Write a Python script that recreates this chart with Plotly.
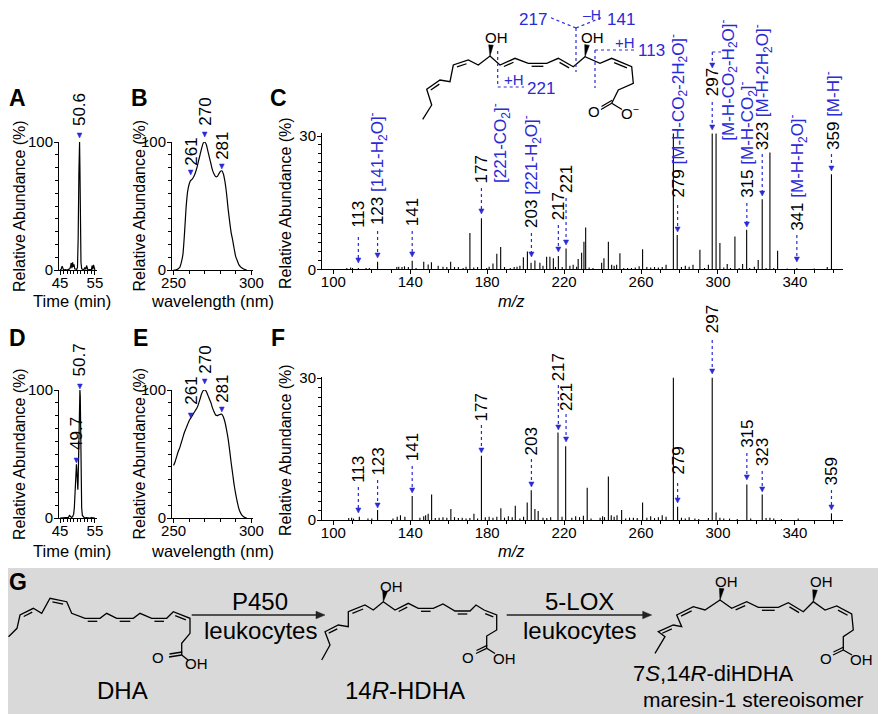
import math
import plotly.graph_objects as go

W, H = 886, 714
# the page puts the plot 8 px in from the top-left corner; drawing coordinates below
# are those of the reference picture, so everything is shifted back by that much
OX, OY = 8, 8
FONT = "Liberation Sans, Arial, sans-serif"
BLUE = "#2a2ad6"

# ---------------- values ----------------
# A: chromatogram, time (min) / relative abundance (%)
time_a = [45.0, 45.3, 45.6, 45.8, 46.0, 46.5, 47.0, 47.4, 47.8, 48.0,
          48.2, 48.4, 48.6, 48.8, 49.0, 49.2, 49.5, 49.8, 50.0, 50.2,
          50.4, 50.5, 50.6, 50.7, 50.8, 51.0, 51.2, 51.5, 51.8, 52.1,
          52.4, 52.6, 52.8, 53.0, 53.5, 54.0, 54.2, 54.4, 54.6, 54.8, 55.0]
abund_a = [0, 0.5, 3, 0.5, 0, 0.3, 0, 0.5, 1, 2.5,
           5.5, 1.5, 6, 2.5, 4.5, 1, 0.5, 0.5, 2, 25,
           75, 95, 100, 80, 40, 6, 1, 0.5, 0, 2,
           0.5, 3.5, 0.5, 0, 0.3, 0.5, 3.5, 0.5, 4, 0.5, 0]

# D: chromatogram
time_d = [45.0, 45.5, 46.0, 46.5, 47.0, 47.4, 47.7, 48.0, 48.3, 48.6,
          48.9, 49.1, 49.3, 49.5, 49.6, 49.7, 49.8, 49.9, 50.0, 50.1,
          50.2, 50.35, 50.5, 50.6, 50.7, 50.8, 50.9, 51.0, 51.1, 51.2,
          51.4, 51.7, 52.0, 52.5, 53.0, 53.5, 54.0, 54.5, 55.0]
abund_d = [0, 0, 0, 0, 0.3, 0.5, 2, 1, 0.5, 1,
           3, 8, 20, 35, 41, 42, 38, 30, 24, 22,
           30, 55, 80, 88, 100, 95, 75, 45, 20, 8,
           2, 0.5, 0, 0.3, 0, 0, 0.3, 0, 0]

# B / E: UV spectra, wavelength (nm) / relative abundance (%)
wl = [250, 251, 252, 253, 254, 255, 256, 257, 258, 259,
      260, 261, 262, 263, 264, 265, 266, 267, 268, 269,
      270, 271, 272, 273, 274, 275, 276, 277, 278, 279,
      280, 281, 282, 283, 284, 285, 286, 287, 288, 289,
      290, 291, 292, 293, 294, 295, 296, 297]
abs_b = [0, 0, 0.3, 1, 2, 6, 12, 28, 48, 61,
         67, 70, 71, 73, 76, 80, 85, 90, 95, 99,
         100, 98, 93, 88, 83, 78, 75, 73, 73, 75,
         77, 77.5, 75, 69, 60, 48, 38, 29, 23, 16,
         10, 7, 4, 2.5, 1.5, 0.8, 0.3, 0]
abs_e = [41, 44, 48, 52, 55, 59, 63, 67, 70, 73,
         76, 78, 80, 82, 84, 86, 89, 93, 97, 99.5,
         100, 99, 96, 93, 90, 86, 83, 80.5, 80, 80.5,
         81, 81, 79, 75, 69, 62, 53, 43, 34, 25,
         18, 12, 7, 4, 2, 1, 0.3, 0]

# C: MS/MS spectrum, m/z / relative abundance (%)
mz_c = [107, 109, 110, 113, 117, 118.7, 123, 133, 134, 135.7,
        137, 139, 141, 143, 147, 149.3, 151, 154.5, 157, 159,
        161, 163, 165, 167.5, 169, 171, 173, 175, 177, 179.7,
        181, 183, 185, 187, 189, 192, 194, 195.5, 197, 198.8,
        200.9, 202.8, 204.8, 207.4, 209, 210.9, 212.6, 214.4, 215.5, 217,
        219, 221, 223, 224.7, 226.5, 227.3, 229.1, 230.3, 231.2, 233,
        235, 239.5, 240.7, 243, 244.7, 246, 247.3, 249, 251, 253,
        255, 257, 259, 260.8, 263, 265, 267, 269, 271, 273,
        276.8, 278.8, 281, 283, 285, 287, 290.6, 293, 295, 297,
        299, 301, 303, 304.8, 306.5, 308.8, 311, 312.8, 314.9, 316.5,
        318.9, 320.9, 323, 325, 327, 329, 331, 336, 341, 350,
        356.8, 359]
int_c = [0.3, 0.4, 0.3, 0.3, 0.3, 0.3, 1.7, 0.5, 0.6, 0.5,
         0.7, 0.5, 1.9, 0.3, 1.7, 1.1, 1.6, 0.8, 0.6, 0.5,
         1.7, 0.5, 0.5, 0.3, 0.6, 8.2, 0.4, 0.5, 11.5, 0.3,
         0.6, 1.3, 3.5, 5.0, 0.5, 0.3, 0.5, 0.6, 0.8, 2.7,
         4.0, 1.5, 2.0, 1.5, 0.8, 2.8, 2.8, 2.5, 0.5, 3.0,
         0.5, 4.7, 0.8, 1.0, 0.6, 2.3, 3.7, 6.2, 9.4, 0.4,
         0.3, 1.5, 2.5, 6.2, 1.0, 0.8, 1.0, 3.6, 0.3, 0.3,
         0.3, 0.4, 0.7, 4.5, 0.5, 0.4, 0.5, 0.4, 0.5, 1.0,
         30.6, 7.7, 0.5, 0.8, 0.6, 1.0, 4.4, 0.3, 1.0, 30.6,
         30.6, 5.9, 0.4, 1.2, 0.3, 7.4, 0.3, 1.2, 8.9, 0.3,
         0.6, 2.1, 15.8, 0.3, 26.3, 0.3, 4.2, 0.2, 0.3, 0.2,
         0.5, 21.4]

# F: MS/MS spectrum
mz_f = [108, 109.5, 110.5, 113.5, 118, 120, 123, 131, 133.2, 134.9,
        137.2, 141, 145, 147, 148, 149.3, 151.1, 153, 155, 157,
        159, 161.1, 163, 165, 167, 169, 171, 173.1, 175, 177,
        179, 181, 183, 185, 187.1, 189, 191, 193, 194.6, 197,
        198.9, 200.8, 202.9, 204.8, 206.5, 209, 211, 213, 216.8, 218.9,
        220.8, 224, 226, 228, 230, 232, 234, 238.7, 240, 241,
        243, 244.5, 246, 247.5, 249.9, 252, 254, 256, 258, 260.8,
        263, 265, 267, 269, 271, 273, 276.8, 279, 281, 283,
        285, 288, 290, 295, 297, 299, 301, 303, 306, 310,
        315, 317, 323, 325, 327, 329, 333, 341.7, 359]
int_f = [0.4, 0.5, 0.3, 0.7, 0.3, 0.3, 2.1, 0.3, 0.7, 1.0,
         0.7, 5.1, 0.5, 0.8, 1.0, 1.3, 5.4, 0.4, 0.5, 0.6,
         0.5, 2.3, 0.6, 0.4, 0.5, 0.3, 0.4, 1.3, 0.3, 13.6,
         0.6, 0.7, 0.5, 0.7, 2.5, 0.5, 0.8, 0.6, 3.0, 0.3,
         0.7, 3.7, 6.3, 2.3, 1.9, 0.5, 0.4, 0.6, 18.5, 0.7,
         15.6, 0.5, 0.8, 0.6, 0.9, 6.8, 0.3, 0.5, 0.8, 0.6,
         9.2, 1.0, 0.7, 1.0, 2.1, 0.3, 0.5, 0.5, 0.4, 3.7,
         0.5, 0.8, 0.4, 0.6, 1.0, 0.7, 30.1, 2.8, 0.5, 0.3,
         0.6, 0.3, 0.2, 0.4, 30.1, 1.6, 0.5, 0.3, 0.3, 0.2,
         7.5, 0.3, 5.4, 0.4, 0.5, 0.3, 0.2, 0.3, 1.4]

# peak labels
peaks_a = ["50.6"]
peaks_b = ["261", "270", "281"]
peaks_d = ["49.7", "50.7"]
peaks_e = ["261", "270", "281"]
ions_c = [113, 123, 141, 177, 203, 217, 221, 279, 297, 315, 323, 341, 359]
ions_f = [113, 123, 141, 177, 203, 217, 221, 279, 297, 315, 323, 359]
frag_c = {123: "[141-H<sub>2</sub>O]<sup>-</sup>",
          203: "[221-H<sub>2</sub>O]<sup>-</sup>",
          279: "[M-H-CO<sub>2</sub>-2H<sub>2</sub>O]<sup>-</sup>",
          315: "[M-H-CO<sub>2</sub>]<sup>-</sup>",
          323: "[M-H-2H<sub>2</sub>O]<sup>-</sup>",
          341: "[M-H-H<sub>2</sub>O]<sup>-</sup>",
          359: "[M-H]<sup>-</sup>"}


def sticks(xs, ys):
    sx, sy = [], []
    for x, y in zip(xs, ys):
        sx += [x, x, None]
        sy += [0, y, None]
    return sx, sy


def xdom(l, r):
    return [(l - OX) / W, (r - OX) / W]


def ydom(t, b):
    return [1 - (b - OY) / H, 1 - (t - OY) / H]


fig = go.Figure()
blk = dict(color="black", width=1.2)
fig.add_trace(go.Scatter(x=time_a, y=abund_a, mode="lines", line=blk, xaxis="x", yaxis="y"))
fig.add_trace(go.Scatter(x=wl, y=abs_b, mode="lines", line=dict(blk, shape="spline", smoothing=0.6),
                         xaxis="x2", yaxis="y2"))
sx, sy = sticks(mz_c, int_c)
fig.add_trace(go.Scatter(x=sx, y=sy, mode="lines", line=dict(color="black", width=1.1), xaxis="x3", yaxis="y3"))
fig.add_trace(go.Scatter(x=time_d, y=abund_d, mode="lines", line=blk, xaxis="x4", yaxis="y4"))
fig.add_trace(go.Scatter(x=wl, y=abs_e, mode="lines", line=dict(blk, shape="spline", smoothing=0.6),
                         xaxis="x5", yaxis="y5"))
sx, sy = sticks(mz_f, int_f)
fig.add_trace(go.Scatter(x=sx, y=sy, mode="lines", line=dict(color="black", width=1.1), xaxis="x6", yaxis="y6"))
# empty canvas subplot used for drawings (reference pixel coordinates)
fig.add_trace(go.Scatter(x=[None], y=[None], mode="lines", xaxis="x7", yaxis="y7"))
fig.update_traces(hoverinfo="skip", showlegend=False)

base = dict(showline=True, linecolor="black", linewidth=1, ticks="outside", ticklen=4,
            tickwidth=1, tickcolor="black", showgrid=False, zeroline=False, automargin=False,
            tickfont=dict(size=15, color="black"), fixedrange=True)


def minor(t0, d):
    return dict(tick0=t0, dtick=d, ticks="outside", ticklen=3, tickcolor="black", showgrid=False)


def time_axis(dom, anchor):
    return dict(base, domain=dom, range=[44.7, 55.6], tick0=45, dtick=10, minor=minor(45, 1),
                anchor=anchor, ticklabelstandoff=-5)


def wl_axis(dom, anchor):
    return dict(base, domain=dom, range=[249, 301], tick0=250, dtick=50, minor=minor(250, 10),
                anchor=anchor, ticklabelstandoff=-5)


def mz_axis(dom, anchor):
    return dict(base, domain=dom, range=[94.1, 365], tick0=100, dtick=40, minor=minor(100, 10),
                anchor=anchor, ticklabelstandoff=-5)


def pct_axis(dom, anchor, top, step, mstep):
    return dict(base, domain=dom, range=[0, top], tick0=0, dtick=step, minor=minor(0, mstep),
                anchor=anchor, ticklabelstandoff=-2)


ann = []
shp = []


def text(t, x, y, size=16, color="black", angle=0, xa="center", ya="middle", xref="x7", yref="y7", pad=1):
    ann.append(dict(text=t, x=x, y=y, xref=xref, yref=yref, showarrow=False, textangle=angle,
                    xanchor=xa, yanchor=ya, borderpad=pad, font=dict(size=size, color=color, family=FONT)))


def head(x, tip, xref, w=2.6, h=5, color=BLUE):
    # small down-pointing triangle whose tip sits at (x, tip)
    shp.append(dict(type="path", xref=xref, yref="y7", xsizemode="pixel", ysizemode="pixel",
                    xanchor=x, yanchor=tip, path="M %.1f,%.1f L %.1f,%.1f L 0,0 Z" % (-w, h, w, h),
                    fillcolor=color, line=dict(color=color, width=0.5)))


def seg(x0, y0, x1, y1, xref="x7", color=BLUE, width=1.2, dash="dot"):
    shp.append(dict(type="line", xref=xref, yref="y7", x0=x0, y0=y0, x1=x1, y1=y1,
                    line=dict(color=color, width=width, dash=dash)))


# panel letters
for letter, x, y in [("A", 17, 98), ("B", 139, 98), ("C", 278, 98),
                     ("D", 17, 338), ("E", 140, 338), ("F", 278, 338), ("G", 18, 582)]:
    text("<b>%s</b>" % letter, x, y, size=23)

# axis titles
for x, y in [(19, 206), (138.5, 206), (285, 203), (19, 454), (138.5, 454), (285, 450)]:
    text("Relative Abundance (%)", x, y, size=16, angle=-90)
for y in (301, 551):
    text("Time (min)", 72, y, size=16.5)
    text("wavelength (nm)", 212, y, size=16.5)
    text("<i>m/z</i>", 511, y, size=16.5)

# small peak markers on A, B, D, E
for xref, lab, bottom, tip in [("x", peaks_a[0], 128, 138),
                               ("x2", peaks_b[0], 168, 175), ("x2", peaks_b[1], 128, 137),
                               ("x2", peaks_b[2], 162, 169),
                               ("x4", peaks_d[0], 452, 463), ("x4", peaks_d[1], 378, 389),
                               ("x5", peaks_e[0], 407, 418), ("x5", peaks_e[1], 376, 384),
                               ("x5", peaks_e[2], 405, 412)]:
    text(lab, float(lab), bottom, size=17, angle=-90, ya="bottom", xref=xref)
    head(float(lab), tip, xref, w=2.4, h=5)

# ion labels in C
c_pos = {113: (230, 237, 263), 123: (227, 231, 258), 141: (228, 231, 257), 177: (185, 188, 214),
         203: (230, 233, 257), 217: (222, 225, 252), 221: (195, 198, 245), 279: (200, 205, 232),
         297: (98, 102, 130), 315: (200, 203, 227), 323: (152, 154, 196), 341: (233, 235, 262),
         359: (152, 154, 171)}
for mz in ions_c:
    bottom, tail, tip = c_pos[mz]
    lab = str(mz)
    if mz in frag_c:
        lab += ' <span style="color:%s">%s</span>' % (BLUE, frag_c[mz])
    text(lab, mz, bottom, size=17, angle=-90, ya="bottom", xref="x3")
    seg(mz, tail, mz, tip - 4, xref="x3")
    head(mz, tip, "x3")
text("[221-CO<sub>2</sub>]<sup>-</sup>", 186.6, 185, size=17, color=BLUE, angle=-90, ya="bottom", xref="x3")
text("[M-H-CO<sub>2</sub>-H<sub>2</sub>O]<sup>-</sup>", 305.3, 143, size=17, color=BLUE, angle=-90,
     ya="bottom", xref="x3")
seg(712.3, 52, 721, 52)
seg(712.3, 52, 712.3, 64)
head(712.3, 68, "x7")

# ion labels in F
f_pos = {113: (485, 487, 513), 123: (478, 480, 508), 141: (463, 466, 493), 177: (423, 425, 453),
         203: (457, 459, 487), 217: (383, 385, 430), 221: (413, 414, 442), 279: (477, 483, 503),
         297: (335, 340, 374), 315: (450, 453, 480), 323: (468, 471, 492), 359: (487, 490, 510)}
for mz in ions_f:
    bottom, tail, tip = f_pos[mz]
    text(str(mz), mz, bottom, size=17, angle=-90, ya="bottom", xref="x6")
    seg(mz, tail, mz, tip - 4, xref="x6")
    head(mz, tip, "x6")


# ---------------- chemical structures (drawing, pixel coordinates) ----------------
def molecule(pts, doubles, wedges, acid, oh_pos):
    shp.append(dict(type="path", xref="x7", yref="y7",
                    path="M " + " L ".join("%.1f,%.1f" % p for p in pts),
                    line=dict(color="black", width=1.3)))
    for i in doubles:
        (x0, y0), (x1, y1) = pts[i], pts[i + 1]
        dx, dy = x1 - x0, y1 - y0
        L = math.hypot(dx, dy)
        nx, ny = -dy / L * 3.0, dx / L * 3.0
        seg(x0 + dx * 0.18 + nx, y0 + dy * 0.18 + ny, x1 - dx * 0.18 + nx, y1 - dy * 0.18 + ny,
            color="black", width=1.3, dash="solid")
    for i, (tx, ty) in wedges:
        cx, cy = pts[i]
        dx, dy = tx - cx, ty - cy
        L = math.hypot(dx, dy)
        px_, py_ = -dy / L * 2.3, dx / L * 2.3
        shp.append(dict(type="path", xref="x7", yref="y7", fillcolor="black",
                        path="M %.1f,%.1f L %.1f,%.1f L %.1f,%.1f Z" % (cx, cy, tx + px_, ty + py_, tx - px_, ty - py_),
                        line=dict(color="black", width=0.5)))
    for (x, y) in oh_pos:
        text("OH", x, y, size=15)
    c1 = pts[-1]
    (o1, o1t, o2, o2t, o2lab) = acid
    seg(c1[0], c1[1], o1[0], o1[1], color="black", width=1.3, dash="solid")
    seg(c1[0] + 0.5, c1[1] - 3, o1[0] + 0.5, o1[1] - 3, color="black", width=1.3, dash="solid")
    seg(c1[0], c1[1], o2[0], o2[1], color="black", width=1.3, dash="solid")
    text("O", o1t[0], o1t[1], size=15)
    text(o2lab, o2t[0], o2t[1], size=15)


# gray box of panel G
shp.append(dict(type="rect", xref="x7", yref="y7", x0=0, y0=568, x1=W + OX, y1=H + OY,
                fillcolor="#d9d9d9", line=dict(width=0), layer="below"))

top_mol = [(422.7, 119.3), (431.7, 105), (426.7, 89.3), (440, 80), (450, 81.7), (453.3, 65),
           (468.3, 60), (478.3, 65), (490, 56), (500, 65), (515, 58.3), (528.3, 63.3),
           (546.7, 63.3), (558.3, 58.3), (573.3, 66.7), (585, 56.7), (600, 63.3), (611.7, 58.3),
           (631.7, 66.7), (633.3, 83.3), (618.3, 90), (611.7, 103.3)]
molecule(top_mol, [2, 5, 9, 11, 13, 17], [(8, (491, 45)), (15, (587, 45))],
         ((601, 109.5), (594, 111), (622, 109.5), (630, 112), "O<sup>−</sup>"),
         [(496, 37), (592, 37)])

dha = [(8.5, 636.7), (17, 628.3), (20, 615), (33.3, 608.3), (41.7, 613.3), (50, 598.3),
       (66.7, 601.7), (71.7, 613.3), (85, 618.3), (100, 618.3), (106.7, 613.3), (116.7, 618.3),
       (133.3, 618.3), (140, 613.3), (151.7, 618.3), (166.7, 618.3), (173.3, 611.7), (190, 618.3),
       (190, 633.3), (181.7, 643.3), (181.7, 655)]
molecule(dha, [2, 5, 8, 11, 14, 16], [],
         ((169, 657), (158, 657), (188, 660), (196, 663), "OH"), [])

hdha = [(321.7, 660), (330, 645), (325, 631.7), (338.3, 625), (348.3, 626.7), (348.3, 611.7),
        (365, 605), (373.3, 610), (383.3, 601.7), (395, 610), (408.3, 603.3), (418.3, 608.3),
        (433.3, 608.3), (443, 604), (455, 611), (470, 611), (476, 605), (484, 610),
        (496.7, 615), (496.7, 630), (486.7, 636), (486.7, 648.3)]
molecule(hdha, [2, 5, 9, 11, 14, 17], [(8, (385, 591.5))],
         ((476, 653.5), (468, 657), (495, 653.5), (504, 658), "OH"), [(391, 586)])

dihdha = [(655, 653.3), (665, 636.7), (658.3, 631.7), (673.3, 625), (681.7, 626.7), (676.7, 615),
          (693.3, 606.7), (705, 610), (720, 600), (731.7, 608.3), (746.7, 601.7), (758.3, 607.3),
          (778.3, 607.3), (788.3, 602.7), (803.3, 611.7), (813.3, 601.7), (825, 610), (836.7, 606),
          (851.7, 614), (853.3, 630), (843.3, 636.7), (843.3, 650)]
molecule(dihdha, [2, 5, 9, 11, 13, 17], [(8, (721.7, 588.5)), (15, (815, 590))],
         ((833, 655), (826, 658), (852, 655), (861, 659), "OH"), [(726, 581), (821, 581)])

# fragmentation marks on the top structure
seg(497.7, 51, 497.7, 87)
seg(497.7, 87, 524, 87)
seg(576, 28, 576, 72)
seg(576, 28, 549, 17)
seg(576, 28, 603, 17)
seg(595, 50, 595, 88)
seg(595, 50, 634, 50)
text("+H", 514, 79, size=15, color=BLUE)
text("221", 541, 88, size=17, color=BLUE)
text("217", 533, 19, size=17, color=BLUE)
text("141", 621, 19, size=17, color=BLUE)
text("–H", 592, 15, size=14, color=BLUE)
text("+H", 625, 42, size=15, color=BLUE)
text("113", 651, 50, size=17, color=BLUE)

# reaction arrows and names in G
for x0, x1, top, xc in [(191.7, 325, "P450", 260), (506.7, 651.7, "5-LOX", 579)]:
    seg(x0, 615, x1 - 6, 615, color="#222222", width=1.3, dash="solid")
    shp.append(dict(type="path", xref="x7", yref="y7", xsizemode="pixel", ysizemode="pixel",
                    xanchor=x1, yanchor=615, path="M 0,0 L -9,3.8 L -9,-3.8 Z",
                    fillcolor="#222222", line=dict(color="#222222", width=0.5)))
    text(top, xc, 601, size=24)
    text("leukocytes", xc, 630, size=24)
text("DHA", 122, 690, size=24)
text("14<i>R</i>-HDHA", 405, 690, size=24)
text("7<i>S</i>,14<i>R</i>-diHDHA", 713, 686.5, size=22, ya="bottom", pad=0)
text("maresin-1 stereoisomer", 753, 686.5, size=21, ya="top", pad=0)

fig.update_layout(
    width=W, height=H, margin=dict(l=0, r=0, t=0, b=0, pad=0, autoexpand=False),
    paper_bgcolor="white", plot_bgcolor="rgba(0,0,0,0)",
    font=dict(family=FONT, size=15, color="black"),
    showlegend=False, hovermode=False,
    xaxis=time_axis(xdom(59, 97), "y"),
    yaxis=pct_axis(ydom(142, 270), "x", 100, 100, 10),
    xaxis2=wl_axis(xdom(172, 253), "y2"),
    yaxis2=pct_axis(ydom(142, 270), "x2", 100, 100, 10),
    xaxis3=mz_axis(xdom(322, 843), "y3"),
    yaxis3=pct_axis(ydom(133, 269.3), "x3", 30.7, 30, 2),
    xaxis4=time_axis(xdom(59, 97), "y4"),
    yaxis4=pct_axis(ydom(390, 518), "x4", 100, 100, 10),
    xaxis5=wl_axis(xdom(172, 253), "y5"),
    yaxis5=pct_axis(ydom(390, 518), "x5", 100, 100, 10),
    xaxis6=mz_axis(xdom(322, 843), "y6"),
    yaxis6=pct_axis(ydom(376.7, 520), "x6", 30.3, 30, 2),
    xaxis7=dict(domain=[0, 1], range=[OX, W + OX], visible=False, fixedrange=True, anchor="y7"),
    yaxis7=dict(domain=[0, 1], range=[H + OY, OY], visible=False, fixedrange=True, anchor="x7"),
    annotations=ann, shapes=shp,
)

fig.write_html("out.html")
